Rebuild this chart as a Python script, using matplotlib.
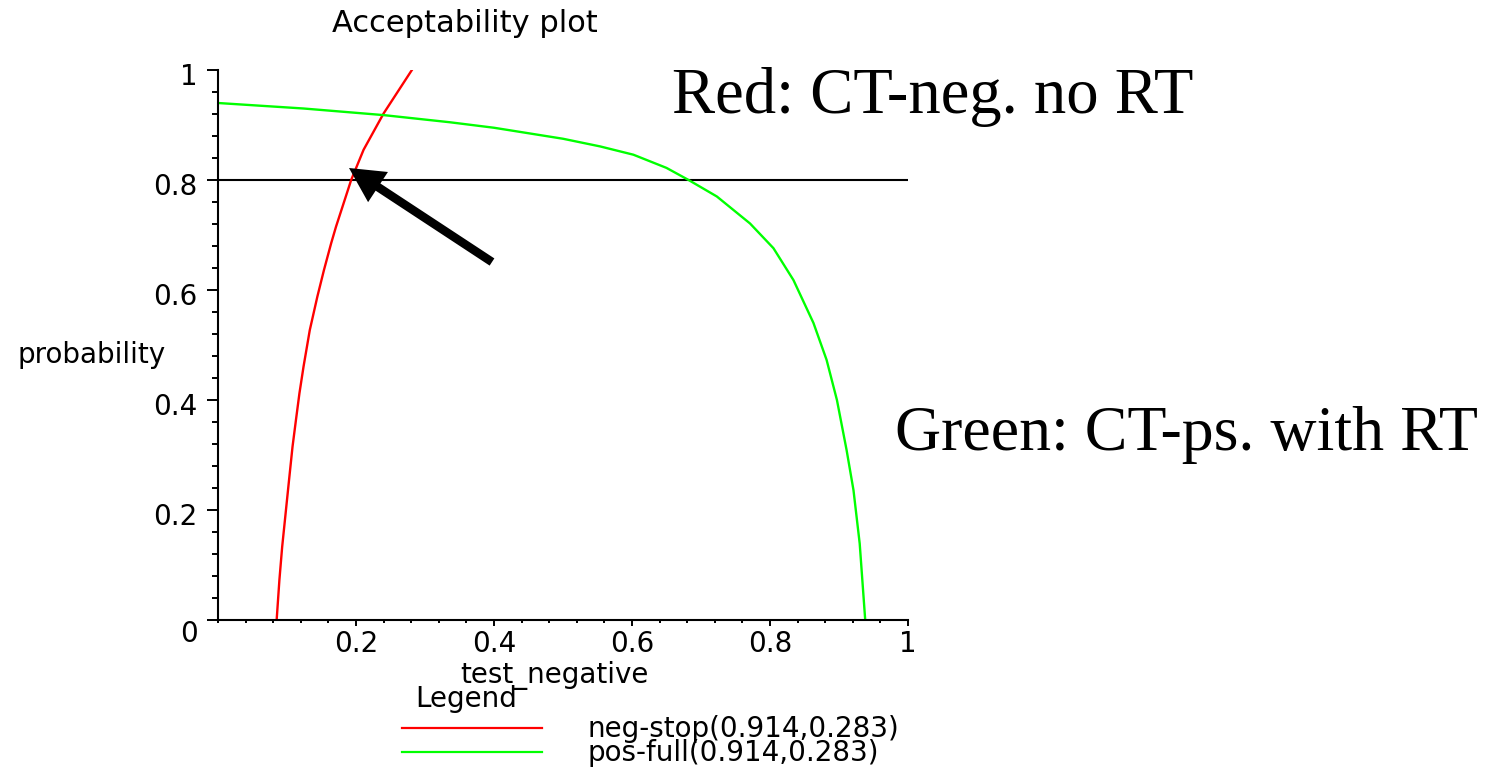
import matplotlib
matplotlib.use("Agg")
import matplotlib.pyplot as plt
from matplotlib.ticker import MultipleLocator, FixedLocator, FixedFormatter
from matplotlib.lines import Line2D
import matplotlib.transforms as mtransforms

# ---- data -------------------------------------------------------------
neg_stop_x = [0.085, 0.089, 0.093, 0.098, 0.103, 0.108, 0.113, 0.118, 0.124,
              0.133, 0.144, 0.1535, 0.164, 0.171, 0.193, 0.211, 0.240, 0.281]
neg_stop_y = [0.000, 0.073, 0.133, 0.194, 0.255, 0.315, 0.364, 0.412, 0.461,
              0.527, 0.588, 0.636, 0.685, 0.715, 0.800, 0.855, 0.921, 1.000]

pos_full_x = [0.000, 0.124, 0.240, 0.336, 0.400, 0.500, 0.554, 0.602, 0.650,
              0.682, 0.723, 0.771, 0.805, 0.834, 0.863, 0.882, 0.897, 0.911,
              0.921, 0.930, 0.938]
pos_full_y = [0.940, 0.930, 0.918, 0.905, 0.895, 0.875, 0.861, 0.846, 0.822,
              0.800, 0.770, 0.721, 0.676, 0.618, 0.540, 0.473, 0.400, 0.309,
              0.236, 0.139, 0.000]

threshold = 0.8
x_ticks = [0.2, 0.4, 0.6, 0.8, 1.0]
x_tick_labels = ["0.2", "0.4", "0.6", "0.8", "1"]
y_ticks = [0.0, 0.2, 0.4, 0.6, 0.8, 1.0]
y_tick_labels = ["0", "0.2", "0.4", "0.6", "0.8", "1"]
legend_labels = ["neg-stop(0.914,0.283)", "pos-full(0.914,0.283)"]
neg_color = "#ff0000"
pos_color = "#00ff00"

# ---- figure -----------------------------------------------------------
W, H = 1493, 771
DPI = 100
fig = plt.figure(figsize=(W / DPI, H / DPI), dpi=DPI)
fig.patch.set_facecolor("white")


def fx(px):
    return px / W


def fy(py):
    return 1 - py / H


ax = fig.add_axes([fx(218), fy(620), 690 / W, 550 / H])
ax.set_xlim(0, 1)
ax.set_ylim(0, 1)
ax.set_facecolor("white")

ax.axhline(threshold, color="black", lw=1.5, zorder=1)
ax.plot(neg_stop_x, neg_stop_y, color=neg_color, lw=1.7, zorder=2)
ax.plot(pos_full_x, pos_full_y, color=pos_color, lw=1.7, zorder=2)

for side in ("top", "right"):
    ax.spines[side].set_visible(False)
for side in ("left", "bottom"):
    ax.spines[side].set_linewidth(1.5)

font = "DejaVu Sans"
ax.xaxis.set_major_locator(FixedLocator(x_ticks))
ax.xaxis.set_major_formatter(FixedFormatter(x_tick_labels))
ax.yaxis.set_major_locator(FixedLocator(y_ticks))
ax.yaxis.set_major_formatter(FixedFormatter(y_tick_labels))
ax.xaxis.set_minor_locator(MultipleLocator(0.04))
ax.yaxis.set_minor_locator(MultipleLocator(0.04))

ax.tick_params(axis="x", which="major", direction="out", length=4.3, width=1.4,
               pad=3, labelsize=20)
ax.tick_params(axis="x", which="minor", direction="out", length=2.3, width=1.4)
ax.tick_params(axis="y", which="major", direction="out", length=8, width=1.4,
               pad=6.5, labelsize=20)
ax.tick_params(axis="y", which="minor", direction="out", length=4.3, width=1.4)

# y tick labels sit a little below their ticks
fig.canvas.draw()
for lab in ax.get_yticklabels():
    dy = -8 if lab.get_text() == "0" else -3
    off = mtransforms.ScaledTranslation(0, dy / 72, fig.dpi_scale_trans)
    lab.set_transform(lab.get_transform() + off)

# ---- texts ------------------------------------------------------------
fig.text(fx(465), fy(32), "Acceptability plot", ha="center", va="baseline",
         fontsize=22, family=font)
fig.text(fx(17), fy(363), "probability", ha="left", va="baseline",
         fontsize=20, family=font)
fig.text(fx(460), fy(683), "test_negative", ha="left", va="baseline",
         fontsize=20, family=font)

# legend block
fig.text(fx(415), fy(707), "Legend", ha="left", va="baseline",
         fontsize=20, family=font)
fig.add_artist(Line2D([fx(402), fx(542)], [fy(728), fy(728)],
                      transform=fig.transFigure, color=neg_color, lw=1.6))
fig.add_artist(Line2D([fx(402), fx(542)], [fy(752), fy(752)],
                      transform=fig.transFigure, color=pos_color, lw=1.6))
fig.text(fx(587), fy(737), legend_labels[0], ha="left", va="baseline",
         fontsize=20, family=font)
fig.text(fx(587), fy(761), legend_labels[1], ha="left", va="baseline",
         fontsize=20, family=font)

# annotations
fig.text(fx(672), fy(113), "Red: CT-neg. no RT", ha="left", va="baseline",
         fontsize=46.5, family="Liberation Serif")
fig.text(fx(895), fy(450), "Green: CT-ps. with RT", ha="left", va="baseline",
         fontsize=46, family="Liberation Serif")

ax.annotate("", xy=(349, H - 168), xytext=(492, H - 262),
            xycoords="figure pixels", textcoords="figure pixels",
            arrowprops=dict(arrowstyle="simple,head_length=25,head_width=26,tail_width=6.2",
                            mutation_scale=1, color="black", lw=0,
                            shrinkA=0, shrinkB=0),
            annotation_clip=False)

fig.savefig("out.png", dpi=DPI, facecolor="white")
